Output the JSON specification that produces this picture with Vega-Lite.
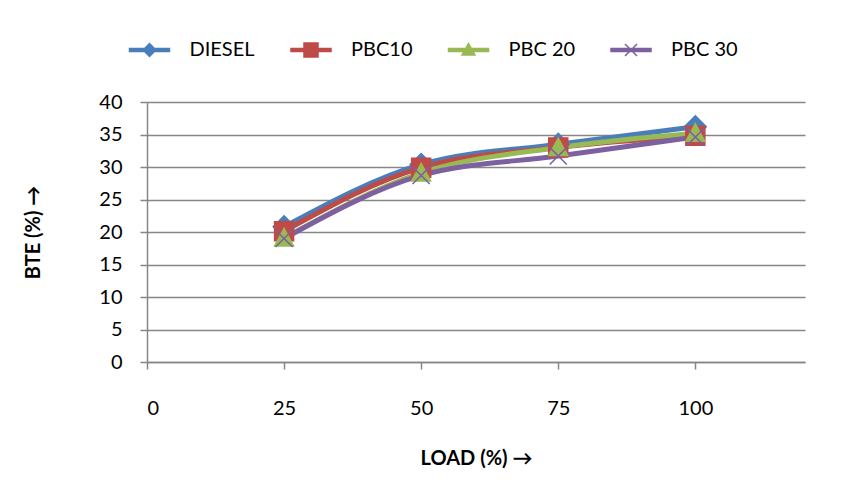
{
  "$schema": "https://vega.github.io/schema/vega-lite/v6.json",
  "width": 658,
  "height": 260,
  "autosize": {"type": "none"},
  "padding": {"left": 147, "top": 102, "right": 39, "bottom": 139},
  "background": "white",
  "config": {
    "font": "Lato",
    "view": {"stroke": null},
    "axis": {
      "labelFont": "Lato", "labelFontSize": 20, "labelColor": "black",
      "titleFont": "Lato", "titleFontSize": 20, "titleFontWeight": "bold", "titleColor": "black",
      "domainColor": "#868686", "tickColor": "#868686", "gridColor": "#868686",
      "tickSize": 7, "domainWidth": 1.5, "tickWidth": 1.5, "gridWidth": 1.5
    },
    "legend": {
      "labelFont": "Lato", "labelFontSize": 20, "labelColor": "black",
      "orient": "none", "legendX": -7.5, "legendY": -62, "direction": "horizontal", "columns": 4,
      "labelOffset": 30, "columnPadding": 32.5, "symbolOpacity": 1,
      "symbolStrokeWidth": 1.5, "symbolFillColor": "#7D60A0", "symbolStrokeColor": "#7D60A0"
    }
  },
  "data": {
    "values": [
      {"fuel": "DIESEL", "load": 25, "bte": 20.8},
      {"fuel": "DIESEL", "load": 50, "bte": 30.4},
      {"fuel": "DIESEL", "load": 75, "bte": 33.5},
      {"fuel": "DIESEL", "load": 100, "bte": 36.2},
      {"fuel": "PBC10", "load": 25, "bte": 20.1},
      {"fuel": "PBC10", "load": 50, "bte": 29.9},
      {"fuel": "PBC10", "load": 75, "bte": 33.0},
      {"fuel": "PBC10", "load": 100, "bte": 34.8},
      {"fuel": "PBC 20", "load": 25, "bte": 19.1},
      {"fuel": "PBC 20", "load": 50, "bte": 29.1},
      {"fuel": "PBC 20", "load": 75, "bte": 33.0},
      {"fuel": "PBC 20", "load": 100, "bte": 35.2},
      {"fuel": "PBC 30", "load": 25, "bte": 19.0},
      {"fuel": "PBC 30", "load": 50, "bte": 28.7},
      {"fuel": "PBC 30", "load": 75, "bte": 31.7},
      {"fuel": "PBC 30", "load": 100, "bte": 34.6}
    ]
  },
  "encoding": {
    "x": {
      "field": "load", "type": "quantitative",
      "scale": {"domain": [0, 120], "nice": false},
      "axis": {"values": [0, 25, 50, 75, 100], "grid": false, "title": "LOAD (%) →", "labelPadding": 29, "titlePadding": 30}
    },
    "y": {
      "field": "bte", "type": "quantitative",
      "scale": {"domain": [0, 40], "nice": false},
      "axis": {"values": [0, 5, 10, 15, 20, 25, 30, 35, 40], "grid": true, "title": "BTE (%) →", "labelPadding": 18, "titlePadding": 55}
    }
  },
  "layer": [
    {
      "mark": {"type": "line", "strokeWidth": 5, "interpolate": "monotone"},
      "encoding": {
        "color": {"field": "fuel", "type": "nominal",
          "scale": {"domain": ["DIESEL", "PBC10", "PBC 20", "PBC 30"], "range": ["#4A7EBB", "#BE4B48", "#98B954", "#7D60A0"]},
          "legend": null}
      }
    },
    {
      "mark": {"type": "point", "filled": true, "size": 361, "strokeWidth": 1.5, "opacity": 1},
      "encoding": {
        "color": {"field": "fuel", "type": "nominal",
          "scale": {"domain": ["DIESEL", "PBC10", "PBC 20", "PBC 30"], "range": ["#4A7EBB", "#BE4B48", "#98B954", "#7D60A0"]},
          "legend": null},
        "stroke": {"field": "fuel", "type": "nominal",
          "scale": {"domain": ["DIESEL", "PBC10", "PBC 20", "PBC 30"], "range": ["#4A7EBB", "#BE4B48", "#98B954", "#7D60A0"]},
          "legend": null},
        "shape": {"field": "fuel", "type": "nominal",
          "scale": {"domain": ["DIESEL", "PBC10", "PBC 20", "PBC 30"],
            "range": ["M-1.15,0L0,-1.15L1.15,0L0,1.15Z", "M-1,-1L1,-1L1,1L-1,1Z", "M0,-1L1,0.85L-1,0.85Z", "M-0.9,-0.9L0.9,0.9M-0.9,0.9L0.9,-0.9"]},
          "legend": null}
      }
    },
    {
      "mark": {"type": "point", "filled": true, "size": 225, "strokeWidth": 1.5, "opacity": 0},
      "encoding": {
        "color": {"field": "fuel", "type": "nominal",
          "scale": {"domain": ["DIESEL", "PBC10", "PBC 20", "PBC 30"], "range": ["#4A7EBB", "#BE4B48", "#98B954", "#7D60A0"]},
          "legend": {"title": null}},
        "stroke": {"field": "fuel", "type": "nominal",
          "scale": {"domain": ["DIESEL", "PBC10", "PBC 20", "PBC 30"], "range": ["#4A7EBB", "#BE4B48", "#98B954", "#7D60A0"]},
          "legend": {"title": null}},
        "shape": {"field": "fuel", "type": "nominal",
          "scale": {"domain": ["DIESEL", "PBC10", "PBC 20", "PBC 30"],
            "range": [
              "M-4,-0.3L4,-0.3L4,0.3L-4,0.3Z M-1.27,0L0,-1.27L1.27,0L0,1.27Z",
              "M-4,-0.3L4,-0.3L4,0.3L-4,0.3Z M-1.4,-1.4L1.4,-1.4L1.4,1.4L-1.4,1.4Z",
              "M-4,-0.3L4,-0.3L4,0.3L-4,0.3Z M0,-1.3L1.3,1L-1.3,1Z",
              "M-4,-0.3L4,-0.3L4,0.3L-4,0.3Z M-1.2,-1.2L1.2,1.2M-1.2,1.2L1.2,-1.2"
            ]},
          "legend": {"title": null}
        }
      }
    }
  ],
  "resolve": {"scale": {"shape": "independent", "color": "independent", "stroke": "independent"}}
}
